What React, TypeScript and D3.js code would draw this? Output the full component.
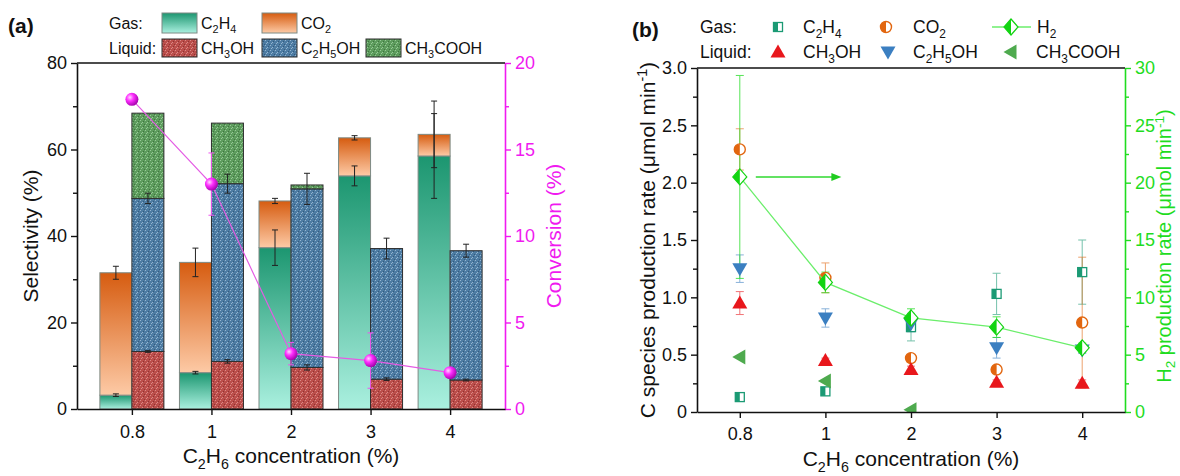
import React, { useEffect, useRef } from 'react';
import * as d3 from 'd3';

// x categories (C2H6 concentration, %)
const concentrations = ['0.8', '1', '2', '3', '4'];

// (a) selectivity, % (stacked segments)
const selC2H4 = [3.2, 8.4, 37.3, 53.9, 58.5];
const selCO2 = [28.3, 25.5, 10.8, 8.8, 5.0];
const selCH3OH = [13.3, 11.0, 9.6, 6.9, 6.7];
const selC2H5OH = [35.4, 41.1, 41.3, 30.2, 29.9];
const selCH3COOH = [19.7, 14.0, 0.9, 0, 0];
// error at the top of each segment
const errSelC2H4 = [0.3, 0.3, 4.1, 2.3, 9.8];
const errSelCO2 = [1.5, 3.3, 0.6, 0.5, 7.7];
const errSelCH3OH = [0.2, 0.4, 0.6, 0.3, 0.2];
const errSelC2H5OH = [1.2, 2.2, 3.6, 2.4, 1.5];

// (a) conversion, %
const conversion = [17.9, 13.0, 3.2, 2.8, 2.1];
const errConversion = [0, 1.8, 0.65, 1.6, 0];

// (b) production rates, umol/min
const rateC2H4 = [0.13, 0.18, 0.74, 1.03, 1.22];
const errRateC2H4 = [0.02, 0.03, 0.12, 0.18, 0.28];
const rateCO2 = [2.29, 1.17, 0.47, 0.37, 0.78];
const errRateCO2 = [0.18, 0.13, 0.02, 0.02, 0.57];
const rateCH3OH = [0.95, 0.45, 0.37, 0.26, 0.25];
const errRateCH3OH = [0.1, 0.02, 0.03, 0.02, 0.03];
const rateC2H5OH = [1.25, 0.82, 0.77, 0.56, 0.54];
const errRateC2H5OH = [0.12, 0.08, 0.07, 0.09, 0.03];
const rateCH3COOH = [0.48, 0.27, 0.02, null, null];
const rateH2 = [20.5, 11.3, 8.2, 7.4, 5.6];
const errRateH2 = [8.85, 0.9, 0.8, 0.9, 0.4];

const FONT = '"Liberation Sans", Arial, Helvetica, sans-serif';
const MAG = '#f01af0';
const GREEN = '#1fdc1f';

// writes "C_2H_4" / "min^{-1}" as tspans
const rich = (sel, str, fs, subK = 0.28, supK = 0.38) => {
  const re = /([_^])\{([^}]*)\}|([_^])(.)|([^_^]+)/g;
  let shift = 0;
  let m;
  while ((m = re.exec(str)) !== null) {
    if (m[5] !== undefined) {
      sel.append('tspan').attr('dy', -shift).text(m[5]);
      shift = 0;
    } else {
      const kind = m[1] || m[3];
      const t = m[2] !== undefined ? m[2] : m[4];
      const d = kind === '_' ? fs * subK : -fs * supK;
      sel.append('tspan').attr('dy', d - shift).style('font-size', `${fs * 0.68}px`).text(t);
      shift = d;
    }
  }
  return sel;
};

const App = () => {
  const svgRef = useRef(null);

  useEffect(() => {
    const svg = d3.select(svgRef.current);
    svg.selectAll('*').remove();
    svg.attr('font-family', FONT);

    const defs = svg.append('defs');

    // gradients for gas bars
    const grad = (id, top, bottom) => {
      const g = defs.append('linearGradient').attr('id', id)
        .attr('x1', 0).attr('y1', 0).attr('x2', 0).attr('y2', 1);
      g.append('stop').attr('offset', '0%').attr('stop-color', top);
      g.append('stop').attr('offset', '100%').attr('stop-color', bottom);
    };
    grad('gC2H4', '#1c9670', '#aaf0df');
    grad('gCO2', '#d65c10', '#fdcaa6');

    // speckled patterns for liquid bars
    const pattern = (id, base, light, dark) => {
      const p = defs.append('pattern').attr('id', id)
        .attr('patternUnits', 'userSpaceOnUse').attr('width', 5).attr('height', 5);
      p.append('rect').attr('width', 5).attr('height', 5).attr('fill', base);
      [[0, 0], [3, 1], [1, 3], [4, 4], [2, 2]].forEach(([x, y], i) =>
        p.append('rect').attr('x', x).attr('y', y).attr('width', 1).attr('height', 1)
          .attr('fill', i % 2 ? dark : light));
    };
    pattern('pCH3OH', '#bb4e4b', '#dc8a86', '#8e3331');
    pattern('pC2H5OH', '#4d7ca3', '#93b4d0', '#34597c');
    pattern('pCH3COOH', '#5d9c5d', '#97c997', '#3f723f');

    const sphere = defs.append('radialGradient').attr('id', 'sphere')
      .attr('cx', '35%').attr('cy', '35%').attr('r', '70%');
    sphere.append('stop').attr('offset', '0%').attr('stop-color', '#ffd6ff');
    sphere.append('stop').attr('offset', '40%').attr('stop-color', '#ff30ff');
    sphere.append('stop').attr('offset', '100%').attr('stop-color', '#a000a8');

    const styleAxis = (g, color, fs) => {
      g.attr('font-family', FONT).attr('font-size', fs);
      g.select('.domain').attr('stroke', color).attr('stroke-width', 1.6);
      g.selectAll('.tick line').attr('stroke', color).attr('stroke-width', 1.4);
      g.selectAll('.tick text').attr('fill', color);
    };
    const minor = (g) => {
      g.select('.domain').remove();
    };

    const errorBar = (g, x, y1, y2, color, cap, width = 1) => {
      g.append('line').attr('x1', x).attr('x2', x).attr('y1', y1).attr('y2', y2)
        .attr('stroke', color).attr('stroke-width', width);
      [y1, y2].forEach(y => g.append('line').attr('x1', x - cap / 2).attr('x2', x + cap / 2)
        .attr('y1', y).attr('y2', y).attr('stroke', color).attr('stroke-width', width));
    };

    // ---------------- panel (a) ----------------
    const A = { l: 77, r: 505, t: 63, b: 409 };
    const xA = d3.scalePoint().domain(concentrations).range([A.l, A.r]).padding(0.69);
    const yA = d3.scaleLinear().domain([0, 80]).range([A.b, A.t]);
    const yConv = d3.scaleLinear().domain([0, 20]).range([A.b, A.t]);
    const barW = 32;

    const rows = concentrations.map((c, i) => ({
      c,
      C2H4: selC2H4[i], CO2: selCO2[i],
      CH3OH: selCH3OH[i], C2H5OH: selC2H5OH[i], CH3COOH: selCH3COOH[i],
    }));
    const gasStack = d3.stack().keys(['C2H4', 'CO2'])(rows);
    const liqStack = d3.stack().keys(['CH3OH', 'C2H5OH', 'CH3COOH'])(rows);
    const fills = {
      C2H4: 'url(#gC2H4)', CO2: 'url(#gCO2)',
      CH3OH: 'url(#pCH3OH)', C2H5OH: 'url(#pC2H5OH)', CH3COOH: 'url(#pCH3COOH)',
    };

    const gBars = svg.append('g');
    gasStack.forEach(layer => {
      gBars.selectAll(null).data(layer).enter().append('rect')
        .attr('x', d => xA(d.data.c) - barW)
        .attr('y', d => yA(d[1]))
        .attr('width', barW)
        .attr('height', d => yA(d[0]) - yA(d[1]))
        .attr('fill', fills[layer.key])
        .attr('stroke', '#7d8a84').attr('stroke-width', 1);
    });
    liqStack.forEach(layer => {
      gBars.selectAll(null).data(layer.filter(d => d[1] > d[0])).enter().append('rect')
        .attr('x', d => xA(d.data.c))
        .attr('y', d => yA(d[1]))
        .attr('width', barW)
        .attr('height', d => yA(d[0]) - yA(d[1]))
        .attr('fill', fills[layer.key])
        .attr('stroke', '#2e2e2e').attr('stroke-width', 1);
    });

    // error bars on stacked tops
    const gErr = svg.append('g');
    const gasErr = [errSelC2H4, errSelCO2];
    gasStack.forEach((layer, k) => layer.forEach((d, i) => {
      const e = gasErr[k][i];
      if (e > 0) errorBar(gErr, xA(d.data.c) - barW / 2, yA(d[1] + e), yA(d[1] - e), '#222', 6);
    }));
    const liqErr = [errSelCH3OH, errSelC2H5OH];
    liqStack.slice(0, 2).forEach((layer, k) => layer.forEach((d, i) => {
      const e = liqErr[k][i];
      if (e > 0) errorBar(gErr, xA(d.data.c) + barW / 2, yA(d[1] + e), yA(d[1] - e), '#222', 6);
    }));

    // axes (a)
    svg.append('g').attr('transform', `translate(${A.l},0)`)
      .call(d3.axisLeft(yA).tickValues([0, 20, 40, 60, 80]).tickSize(6).tickPadding(4).tickSizeOuter(0))
      .call(g => styleAxis(g, '#111', 18));
    svg.append('g').attr('transform', `translate(${A.l},0)`)
      .call(d3.axisLeft(yA).tickValues([10, 30, 50, 70]).tickSize(4).tickFormat(() => ''))
      .call(g => { styleAxis(g, '#111', 18); minor(g); });
    svg.append('g').attr('transform', `translate(${A.r},0)`)
      .call(d3.axisRight(yConv).tickValues([0, 5, 10, 15, 20]).tickSize(6).tickPadding(4).tickSizeOuter(0))
      .call(g => styleAxis(g, MAG, 18));
    svg.append('g').attr('transform', `translate(${A.r},0)`)
      .call(d3.axisRight(yConv).tickValues([2.5, 7.5, 12.5, 17.5]).tickSize(4).tickFormat(() => ''))
      .call(g => { styleAxis(g, MAG, 18); minor(g); });
    svg.append('g').attr('transform', `translate(0,${A.b})`)
      .call(d3.axisBottom(xA).tickSize(6).tickPadding(10).tickSizeOuter(0))
      .call(g => styleAxis(g, '#111', 18));
    svg.append('line').attr('x1', A.l).attr('x2', A.r).attr('y1', A.t).attr('y2', A.t)
      .attr('stroke', '#111').attr('stroke-width', 1.6);

    // conversion line
    const gConv = svg.append('g');
    gConv.append('path')
      .datum(conversion)
      .attr('fill', 'none').attr('stroke', '#e45ce4').attr('stroke-width', 1.2)
      .attr('d', d3.line().x((d, i) => xA(concentrations[i])).y(d => yConv(d)));
    conversion.forEach((v, i) => {
      const e = errConversion[i];
      if (e > 0) errorBar(gConv, xA(concentrations[i]), yConv(v + e), yConv(v - e), '#ee55ee', 6);
    });
    gConv.selectAll('circle').data(conversion).enter().append('circle')
      .attr('cx', (d, i) => xA(concentrations[i])).attr('cy', d => yConv(d))
      .attr('r', 6.5).attr('fill', 'url(#sphere)');

    // titles (a)
    svg.append('text').attr('transform', `translate(38,${(A.t + A.b) / 2}) rotate(-90)`)
      .attr('text-anchor', 'middle').style('font-size', '21px').attr('fill', '#111')
      .text('Selectivity (%)');
    svg.append('text').attr('transform', `translate(561,${(A.t + A.b) / 2}) rotate(-90)`)
      .attr('text-anchor', 'middle').style('font-size', '21px').attr('fill', MAG)
      .text('Conversion (%)');
    rich(svg.append('text').attr('x', (A.l + A.r) / 2).attr('y', 463)
      .attr('text-anchor', 'middle').style('font-size', '21px').attr('fill', '#111'),
    'C_2H_6 concentration (%)', 21);
    svg.append('text').attr('x', 8).attr('y', 33).style('font-size', '21px')
      .style('font-weight', 'bold').attr('fill', '#111').text('(a)');

    // legend (a)
    const legA = svg.append('g').style('font-size', '16px').attr('fill', '#111');
    legA.append('text').attr('x', 109).attr('y', 29).text('Gas:');
    legA.append('text').attr('x', 109).attr('y', 54).text('Liquid:');
    const legItemsA = [
      { key: 'C2H4', label: 'C_2H_4', x: 162, row: 0, gas: true },
      { key: 'CO2', label: 'CO_2', x: 262, row: 0, gas: true },
      { key: 'CH3OH', label: 'CH_3OH', x: 162, row: 1 },
      { key: 'C2H5OH', label: 'C_2H_5OH', x: 262, row: 1 },
      { key: 'CH3COOH', label: 'CH_3COOH', x: 366, row: 1 },
    ];
    legItemsA.forEach(it => {
      const y = it.row === 0 ? 13 : 39;
      legA.append('rect').attr('x', it.x).attr('y', y).attr('width', 35).attr('height', it.row === 0 ? 20 : 18)
        .attr('fill', fills[it.key]).attr('stroke', it.gas ? '#7d8a84' : '#2e2e2e');
      rich(legA.append('text').attr('x', it.x + 39).attr('y', it.row === 0 ? 29 : 54), it.label, 16);
    });

    // ---------------- panel (b) ----------------
    const B = { l: 697, r: 1125, t: 68, b: 412 };
    const xB = d3.scalePoint().domain(concentrations).range([B.l, B.r]).padding(0.5);
    const yB = d3.scaleLinear().domain([0, 3]).range([B.b, B.t]);
    const yH2 = d3.scaleLinear().domain([0, 30]).range([B.b, B.t]);

    defs.append('clipPath').attr('id', 'clipB').append('rect')
      .attr('x', B.l).attr('y', B.t).attr('width', B.r - B.l).attr('height', B.b - B.t);

    const marker = (g, shape, cx, cy, color) => {
      if (shape === 'square') {
        g.append('rect').attr('x', cx - 4.5).attr('y', cy - 4.5).attr('width', 9).attr('height', 9)
          .attr('fill', '#fff').attr('stroke', color).attr('stroke-width', 1.3);
        g.append('rect').attr('x', cx - 4.5).attr('y', cy - 4.5).attr('width', 4.5).attr('height', 9).attr('fill', color);
      } else if (shape === 'circle') {
        const r = 5.5;
        g.append('circle').attr('cx', cx).attr('cy', cy).attr('r', r)
          .attr('fill', '#fff').attr('stroke', color).attr('stroke-width', 1.4);
        g.append('path').attr('d', `M${cx},${cy - r}A${r},${r} 0 0 0 ${cx},${cy + r}Z`).attr('fill', color);
      } else if (shape === 'diamond') {
        const w = 7, h = 8;
        g.append('path').attr('d', `M${cx},${cy - h}L${cx + w},${cy}L${cx},${cy + h}L${cx - w},${cy}Z`)
          .attr('fill', '#fff').attr('stroke', color).attr('stroke-width', 1.2);
        g.append('path').attr('d', `M${cx},${cy - h}L${cx - w},${cy}L${cx},${cy + h}Z`).attr('fill', color);
      } else if (shape === 'up') {
        g.append('path').attr('d', `M${cx},${cy - 7.5}L${cx + 7.5},${cy + 5.5}L${cx - 7.5},${cy + 5.5}Z`).attr('fill', color);
      } else if (shape === 'down') {
        g.append('path').attr('d', `M${cx - 7.5},${cy - 5.5}L${cx + 7.5},${cy - 5.5}L${cx},${cy + 7.5}Z`).attr('fill', color);
      } else if (shape === 'left') {
        g.append('path').attr('d', `M${cx - 7.5},${cy}L${cx + 5.5},${cy - 7.5}L${cx + 5.5},${cy + 7.5}Z`).attr('fill', color);
      }
    };

    const species = [
      { label: 'C_2H_4', vals: rateC2H4, errs: errRateC2H4, color: '#1b9a74', shape: 'square' },
      { label: 'CO_2', vals: rateCO2, errs: errRateCO2, color: '#e2660f', shape: 'circle' },
      { label: 'CH_3OH', vals: rateCH3OH, errs: errRateCH3OH, color: '#e8171c', shape: 'up' },
      { label: 'C_2H_5OH', vals: rateC2H5OH, errs: errRateC2H5OH, color: '#3b7fc1', shape: 'down' },
      { label: 'CH_3COOH', vals: rateCH3COOH, errs: null, color: '#4eaa4e', shape: 'left' },
    ];

    const gB = svg.append('g').attr('clip-path', 'url(#clipB)');
    species.forEach(s => s.vals.forEach((v, i) => {
      if (v == null || !s.errs) return;
      const e = s.errs[i];
      errorBar(gB.append('g').attr('opacity', 0.6), xB(concentrations[i]), yB(v + e), yB(v - e), s.color, 8);
    }));
    rateH2.forEach((v, i) => {
      errorBar(gB.append('g').attr('opacity', 0.75), xB(concentrations[i]), yH2(v + errRateH2[i]), yH2(v - errRateH2[i]), GREEN, 8);
    });
    species.forEach(s => s.vals.forEach((v, i) => {
      if (v == null) return;
      marker(gB, s.shape, xB(concentrations[i]), yB(v), s.color);
    }));
    gB.append('path').datum(rateH2)
      .attr('fill', 'none').attr('stroke', '#6bee6b').attr('stroke-width', 1.3)
      .attr('d', d3.line().x((d, i) => xB(concentrations[i])).y(d => yH2(d)));
    rateH2.forEach((v, i) => marker(gB, 'diamond', xB(concentrations[i]), yH2(v), '#12d412'));

    // arrow pointing to the right axis
    const ay = yH2(rateH2[0]);
    const ax0 = xB(concentrations[0]) + 16;
    const ax1 = xB(concentrations[1]) + 16;
    svg.append('line').attr('x1', ax0).attr('x2', ax1 - 8).attr('y1', ay).attr('y2', ay)
      .attr('stroke', '#2fd82f').attr('stroke-width', 1.5);
    svg.append('path').attr('d', `M${ax1},${ay}L${ax1 - 10},${ay - 4}L${ax1 - 10},${ay + 4}Z`).attr('fill', '#1fcc1f');

    // axes (b)
    svg.append('g').attr('transform', `translate(${B.l},0)`)
      .call(d3.axisLeft(yB).tickValues([0, 0.5, 1, 1.5, 2, 2.5, 3]).tickSize(6).tickPadding(4).tickSizeOuter(0)
        .tickFormat(d => (d === 0 ? '0' : d3.format('.1f')(d))))
      .call(g => styleAxis(g, '#111', 18));
    svg.append('g').attr('transform', `translate(${B.l},0)`)
      .call(d3.axisLeft(yB).tickValues([0.25, 0.75, 1.25, 1.75, 2.25, 2.75]).tickSize(4).tickFormat(() => ''))
      .call(g => { styleAxis(g, '#111', 18); minor(g); });
    svg.append('g').attr('transform', `translate(${B.r},0)`)
      .call(d3.axisRight(yH2).tickValues([0, 5, 10, 15, 20, 25, 30]).tickSize(6).tickPadding(4).tickSizeOuter(0))
      .call(g => styleAxis(g, GREEN, 18));
    svg.append('g').attr('transform', `translate(${B.r},0)`)
      .call(d3.axisRight(yH2).tickValues([2.5, 7.5, 12.5, 17.5, 22.5, 27.5]).tickSize(4).tickFormat(() => ''))
      .call(g => { styleAxis(g, GREEN, 18); minor(g); });
    svg.append('g').attr('transform', `translate(0,${B.b})`)
      .call(d3.axisBottom(xB).tickSize(6).tickPadding(9).tickSizeOuter(0))
      .call(g => styleAxis(g, '#111', 18));
    svg.append('line').attr('x1', B.l).attr('x2', B.r).attr('y1', B.t).attr('y2', B.t)
      .attr('stroke', '#111').attr('stroke-width', 1.6);

    // titles (b)
    rich(svg.append('text').attr('transform', `translate(655,${(B.t + B.b) / 2}) rotate(-90)`)
      .attr('text-anchor', 'middle').style('font-size', '21px').attr('fill', '#111'),
    'C species production rate (μmol min^{-1})', 21);
    rich(svg.append('text').attr('transform', `translate(1171,${(B.t + B.b) / 2 + 6}) rotate(-90)`)
      .attr('text-anchor', 'middle').style('font-size', '20px').attr('fill', GREEN),
    'H_2 production rate (μmol min^{-1})', 20, 0.2, 0.34);
    rich(svg.append('text').attr('x', (B.l + B.r) / 2).attr('y', 466)
      .attr('text-anchor', 'middle').style('font-size', '21px').attr('fill', '#111'),
    'C_2H_6 concentration (%)', 21);
    svg.append('text').attr('x', 632).attr('y', 37).style('font-size', '21px')
      .style('font-weight', 'bold').attr('fill', '#111').text('(b)');

    // legend (b)
    const legB = svg.append('g').style('font-size', '17.5px').attr('fill', '#111');
    legB.append('text').attr('x', 700).attr('y', 33).text('Gas:');
    legB.append('text').attr('x', 700).attr('y', 58).text('Liquid:');
    const legPos = [
      { x: 778, tx: 803, row: 0 },
      { x: 886, tx: 913, row: 0 },
      { x: 778, tx: 803, row: 1 },
      { x: 888, tx: 913, row: 1 },
      { x: 1011, tx: 1036, row: 1 },
    ];
    species.forEach((s, k) => {
      const p = legPos[k];
      const cy = p.row === 0 ? 27 : 52;
      marker(legB, s.shape, p.x, cy, s.color);
      rich(legB.append('text').attr('x', p.tx).attr('y', cy + 6), s.label, 17.5);
    });
    legB.append('line').attr('x1', 992).attr('x2', 1031).attr('y1', 27).attr('y2', 27)
      .attr('stroke', '#6bee6b').attr('stroke-width', 1.3);
    marker(legB, 'diamond', 1011, 27, '#12d412');
    rich(legB.append('text').attr('x', 1037).attr('y', 33), 'H_2', 17.5);
  }, []);

  return (
    <svg
      ref={svgRef}
      width={1180}
      height={476}
      style={{ position: 'absolute', left: 0, top: 0, background: '#fff' }}
    />
  );
};

export default App;
